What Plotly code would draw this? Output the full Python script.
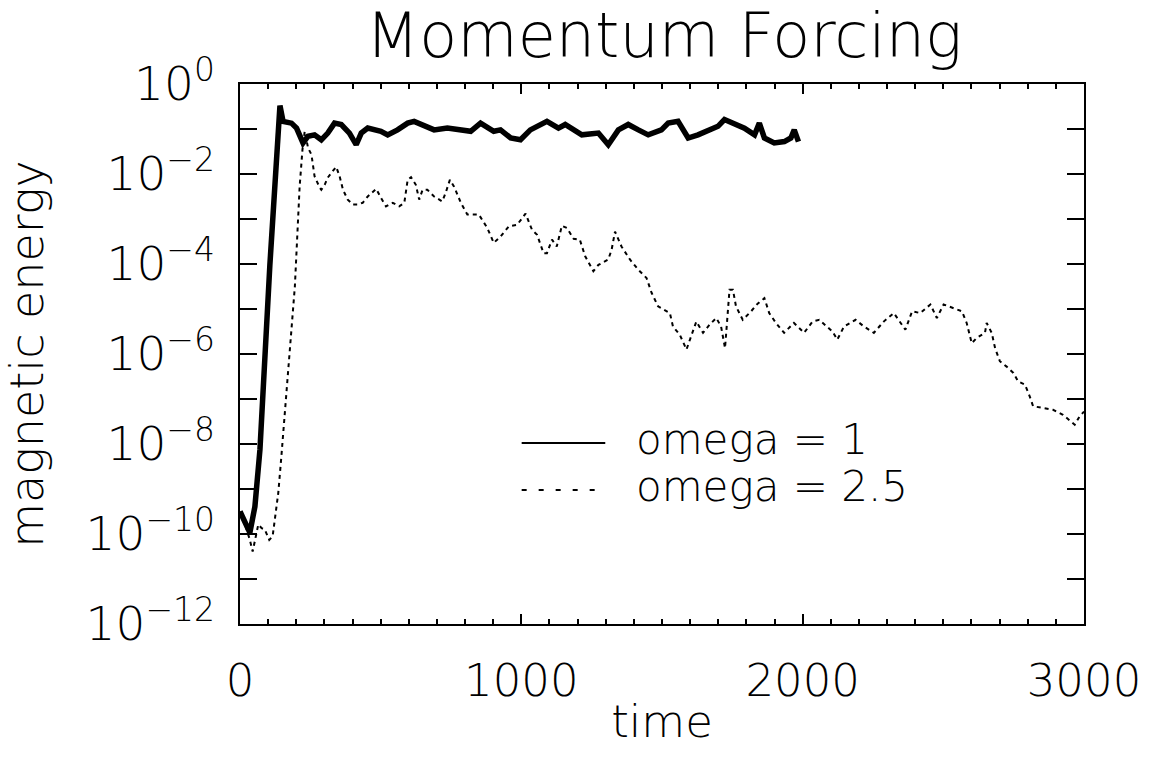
import numpy as np
import plotly.graph_objects as go

# ---- data ----
time_omega1 = [0, 18, 35, 53, 71, 106, 142, 153, 183, 201, 224, 242, 265, 289, 312, 336, 360,
               389, 413, 431, 454, 501, 525, 560, 596, 619, 655, 690, 737, 785, 820, 855, 879,
               902, 926, 962, 997, 1032, 1091, 1132, 1156, 1215, 1274, 1309, 1345, 1380, 1416,
               1451, 1498, 1522, 1557, 1593, 1628, 1663, 1699, 1722, 1758, 1793, 1829, 1846,
               1864, 1899, 1935, 1958, 1970, 1985]
log10_energy_omega1 = [-9.50, -9.73, -9.97, -9.39, -8.12, -4.04, -0.48, -0.83, -0.87, -0.98,
                       -1.31, -1.16, -1.13, -1.24, -1.09, -0.87, -0.90, -1.09, -1.35, -1.09,
                       -0.98, -1.05, -1.13, -1.02, -0.87, -0.83, -0.94, -1.02, -0.98, -1.02,
                       -1.05, -0.87, -0.98, -1.05, -1.02, -1.20, -1.24, -1.02, -0.83, -0.98,
                       -0.90, -1.13, -1.09, -1.35, -1.02, -0.90, -1.02, -1.13, -1.02, -0.87,
                       -0.83, -1.20, -1.13, -1.05, -0.94, -0.79, -0.90, -0.98, -1.13, -0.87,
                       -1.20, -1.31, -1.28, -1.20, -1.02, -1.28]

time_omega25 = [0, 18, 35, 45, 65, 77, 88, 104, 116, 124, 136, 147, 195, 212, 222, 230, 242, 254,
                265, 283, 289, 301, 312, 329, 342, 354, 366, 383, 401, 419, 436, 454, 484, 501,
                519, 543, 566, 584, 596, 608, 625, 637, 649, 666, 690, 719, 731, 746, 761, 785,
                808, 849, 879, 902, 926, 956, 985, 1015, 1038, 1056, 1079, 1091, 1109, 1126,
                1144, 1162, 1186, 1208, 1227, 1256, 1274, 1309, 1321, 1333, 1356, 1386, 1416,
                1445, 1463, 1486, 1528, 1539, 1563, 1587, 1604, 1622, 1646, 1669, 1693, 1710,
                1724, 1740, 1752, 1763, 1787, 1817, 1840, 1864, 1881, 1905, 1934, 1969, 2005,
                2035, 2059, 2106, 2123, 2147, 2188, 2218, 2253, 2288, 2324, 2365, 2389, 2418,
                2454, 2477, 2501, 2536, 2566, 2583, 2601, 2619, 2648, 2654, 2672, 2684, 2701,
                2725, 2749, 2766, 2790, 2807, 2819, 2854, 2890, 2925, 2967, 2984, 3000]
log10_energy_omega25 = [-9.50, -9.79, -10.13, -10.39, -9.79, -9.87, -9.90, -10.13, -10.05, -9.61,
                        -9.09, -8.28, -4.50, -2.28, -1.46, -1.05, -1.42, -1.57, -2.05, -2.30,
                        -2.35, -2.24, -2.08, -1.94, -1.84, -2.05, -2.35, -2.57, -2.68, -2.68,
                        -2.64, -2.50, -2.33, -2.53, -2.72, -2.64, -2.72, -2.64, -2.13, -2.07,
                        -2.24, -2.57, -2.35, -2.35, -2.50, -2.61, -2.42, -2.13, -2.28, -2.64,
                        -2.90, -2.90, -3.20, -3.53, -3.39, -3.16, -3.13, -2.88, -3.24, -3.35,
                        -3.76, -3.76, -3.46, -3.61, -3.15, -3.20, -3.44, -3.46, -3.83, -4.16,
                        -4.02, -3.90, -3.68, -3.28, -3.61, -3.90, -4.13, -4.31, -4.64, -4.94,
                        -5.09, -5.39, -5.57, -5.90, -5.61, -5.28, -5.53, -5.35, -5.20, -5.39,
                        -5.87, -4.57, -4.57, -4.94, -5.24, -5.05, -4.88, -4.76, -5.09, -5.31,
                        -5.53, -5.31, -5.53, -5.28, -5.24, -5.50, -5.68, -5.39, -5.24, -5.39,
                        -5.53, -5.28, -5.09, -5.46, -5.05, -5.09, -4.90, -5.20, -4.90, -4.98,
                        -5.05, -5.31, -5.76, -5.64, -5.53, -5.31, -5.53, -5.87, -6.16, -6.28,
                        -6.42, -6.61, -6.68, -6.94, -7.16, -7.20, -7.24, -7.35, -7.57, -7.39,
                        -7.28]

series_names = ["omega = 1", "omega = 2.5"]
x_tick_vals = [0, 1000, 2000, 3000]
x_tick_text = ["0", "1000", "2000", "3000"]
y_major_exponents = [0, -2, -4, -6, -8, -10, -12]
y_major_text = ["10<sup>0</sup>", "10<sup>\u22122</sup>", "10<sup>\u22124</sup>",
                "10<sup>\u22126</sup>", "10<sup>\u22128</sup>", "10<sup>\u221210</sup>",
                "10<sup>\u221212</sup>"]
y_minor_exponents = [-1, -3, -5, -7, -9, -11]

energy_omega1 = np.power(10.0, log10_energy_omega1)
energy_omega25 = np.power(10.0, log10_energy_omega25)

FONT = "DejaVu Sans"
W, H = 1153, 765
L, R, T, B = 240, 65, 84, 141

fig = go.Figure()
fig.add_trace(go.Scatter(x=time_omega1, y=energy_omega1, mode="lines", name=series_names[0],
                         line=dict(color="black", width=5.5), showlegend=False))
fig.add_trace(go.Scatter(x=time_omega25, y=energy_omega25, mode="lines", name=series_names[1],
                         line=dict(color="black", width=2, dash="4px,4px"), showlegend=False))

# legend drawn in the IDL style: long line sample followed by the label
pw = W - L - R
ph = H - T - B
def px(xp):
    return (xp - L) / pw
def py(yp):
    return (H - B - yp) / ph

legend_rows = [443, 490]
legend_dash = ["solid", "5px,12px"]
for name, yr, dash in zip(series_names, legend_rows, legend_dash):
    fig.add_shape(type="line", xref="paper", yref="paper", x0=px(523), x1=px(607),
                  y0=py(yr), y1=py(yr), line=dict(color="black", width=2, dash=dash))
    fig.add_annotation(xref="paper", yref="paper", x=px(636), y=py(yr - 4), text=name,
                       showarrow=False, xanchor="left", yanchor="middle",
                       font=dict(family=FONT, size=42, color="black", weight=200))

axis_font = dict(family=FONT, size=45, color="black", weight=200)
ytick_font = dict(family=FONT, size=47, color="black", weight=200)
fig.update_layout(
    width=W, height=H,
    margin=dict(l=L, r=R, t=T, b=B, pad=0),
    paper_bgcolor="white", plot_bgcolor="white",
    title=dict(text="Momentum Forcing", x=0.5 * (L + (W - R)) / W, xanchor="center",
               y=1 - 35 / H, yanchor="middle",
               font=dict(family=FONT, size=62, color="black", weight=200)),
    xaxis=dict(range=[0, 3000], showline=True, linecolor="black", linewidth=1.5, mirror="allticks",
               ticks="inside", ticklen=10, tickwidth=1.5, tickcolor="black",
               tickmode="array", tickvals=x_tick_vals, ticktext=x_tick_text,
               minor=dict(dtick=100, tick0=0, ticks="inside", ticklen=5, tickwidth=1.5, tickcolor="black"),
               showgrid=False, zeroline=False, tickfont=axis_font, ticklabelstandoff=16,
               title=dict(text="time", font=axis_font, standoff=0)),
    yaxis=dict(type="log", range=[-12, 0], showline=True, linecolor="black", linewidth=1.5,
               mirror="allticks", ticks="inside", ticklen=17, tickwidth=1.5, tickcolor="black",
               tickmode="array", tickvals=[10.0 ** e for e in y_major_exponents],
               ticktext=y_major_text,
               minor=dict(tickvals=[10.0 ** e for e in y_minor_exponents], ticks="inside",
                          ticklen=17, tickwidth=1.5, tickcolor="black"),
               showgrid=False, zeroline=False, tickfont=ytick_font, ticklabelstandoff=14,
               title=dict(text="magnetic energy", font=dict(family=FONT, size=46, color="black", weight=200),
                          standoff=30)),
)

fig.write_html("out.html")
